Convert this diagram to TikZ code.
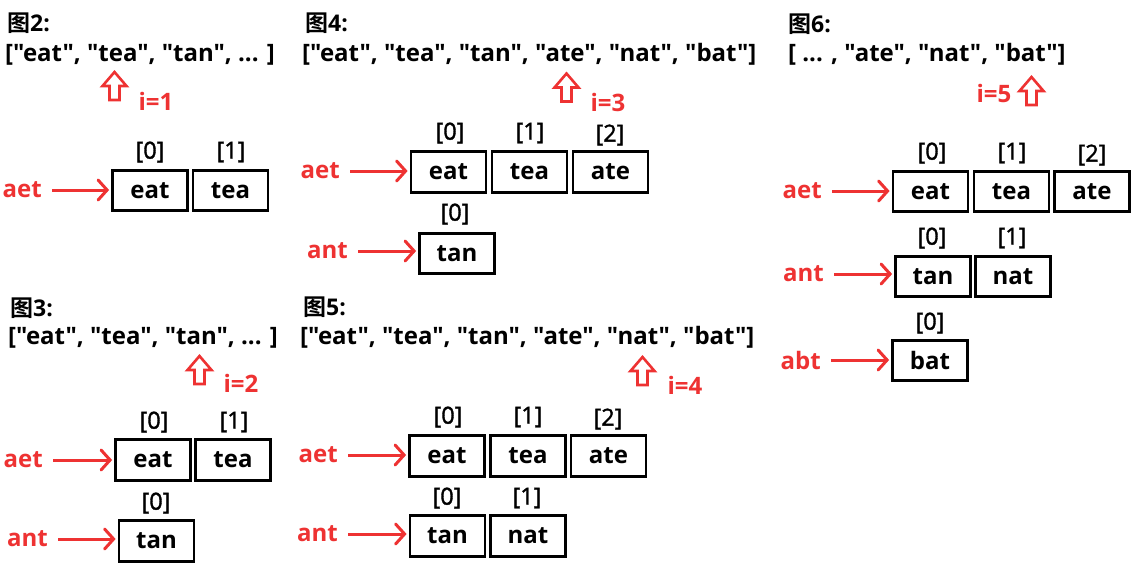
\documentclass[tikz,border=0pt]{standalone}
\usepackage{fontspec}
\setmainfont{Open Sans}[Ligatures=TeXOff]
\newfontfamily\cjkf{Noto Sans CJK SC}[BoldFont={* Bold}]
\newfontfamily\idxfont{Open Sans}[Ligatures=TeXOff,FakeBold=1.5]
\usetikzlibrary{arrows.meta}
\definecolor{myred}{RGB}{238,50,50}
\tikzset{
 cell/.style={draw, line width=2.8pt, minimum width=75pt, minimum height=40.5pt, inner sep=0pt, font=\bfseries\fontsize{24}{24}\selectfont},
 idx/.style={inner sep=0pt, font=\idxfont\fontsize{23.5}{23.5}\selectfont},
 key/.style={anchor=east, inner sep=0pt, text=myred, font=\bfseries\fontsize{24}{24}\selectfont},
 ttl/.style={anchor=west, inner sep=0pt, font=\bfseries\fontsize{23}{23}\selectfont},
 lst/.style={anchor=west, inner sep=0pt, font=\bfseries\fontsize{24}{24}\selectfont},
 ilab/.style={inner sep=0pt, text=myred, font=\bfseries\fontsize{24}{24}\selectfont},
 ptr/.style={draw=myred, line width=3pt, -{Straight Barb[length=9pt,width=20pt,line cap=round]}, shorten <=10pt, shorten >=2pt},
 uparrow/.pic={\draw[myred, line width=2.6pt, line join=miter] (0,-14) -- (12,0) -- (5,0) -- (5,14) -- (-5,14) -- (-5,0) -- (-12,0) -- cycle;}
}
\begin{document}
\begin{tikzpicture}[x=1pt,y=-1pt]
\fill[white] (0,0) rectangle (1137,574);
\useasboundingbox (0,0) rectangle (1137,574);
% ---------- Panel 2
\node[ttl] (p2t) at (7,23) {{\cjkf\bfseries 图}2:};
\node[lst] (p2l) at (5,55) {["eat", "tea", "tan", ... ]};
\pic at (114.5,86) {uparrow};
\node[ilab] (p2i) at (156,101) {i=1};
\node[idx] (p2x0) at (150,152) {[0]};
\node[idx] (p2x1) at (231,152) {[1]};
\node[cell] (p2c0) at (150,190.5) {eat};
\node[cell] (p2c1) at (230.5,190.5) {tea};
\node[key] (p2k0) at (42,190) {aet};
\draw[ptr] (p2k0) -- (p2k0 -| p2c0.west);
% ---------- Panel 3
\node[ttl] (p3t) at (10,308) {{\cjkf\bfseries 图}3:};
\node[lst] (p3l) at (8,338) {["eat", "tea", "tan", ... ]};
\pic at (199.5,370) {uparrow};
\node[ilab] (p3i) at (241,383) {i=2};
\node[idx] (p3x0) at (154,422) {[0]};
\node[idx] (p3x1) at (234,422) {[1]};
\node[cell] (p3c0) at (153,460) {eat};
\node[cell] (p3c1) at (233,460) {tea};
\node[key] (p3k0) at (43,460) {aet};
\draw[ptr] (p3k0) -- (p3k0 -| p3c0.west);
\node[idx] (p3x2) at (156,503) {[0]};
\node[cell] (p3c2) at (156.5,541) {tan};
\node[key] (p3k1) at (48,539) {ant};
\draw[ptr] (p3k1) -- (p3k1 -| p3c2.west);
% ---------- Panel 4
\node[ttl] (p4t) at (305,23) {{\cjkf\bfseries 图}4:};
\node[lst] (p4l) at (302,54) {["eat", "tea", "tan", "ate", "nat", "bat"]};
\pic at (566.5,87.5) {uparrow};
\node[ilab] (p4i) at (608,102) {i=3};
\node[idx] (p4x0) at (450,133) {[0]};
\node[idx] (p4x1) at (530,133) {[1]};
\node[idx] (p4x2) at (610,135) {[2]};
\node[cell] (p4c0) at (448.5,172) {eat};
\node[cell] (p4c1) at (529.5,172) {tea};
\node[cell] (p4c2) at (610.5,172) {ate};
\node[key] (p4k0) at (340,171) {aet};
\draw[ptr] (p4k0) -- (p4k0 -| p4c0.west);
\node[idx] (p4x3) at (455,214) {[0]};
\node[cell] (p4c3) at (457,253.5) {tan};
\node[key] (p4k1) at (348,251) {ant};
\draw[ptr] (p4k1) -- (p4k1 -| p4c3.west);
% ---------- Panel 5
\node[ttl] (p5t) at (303,307) {{\cjkf\bfseries 图}5:};
\node[lst] (p5l) at (300,337) {["eat", "tea", "tan", "ate", "nat", "bat"]};
\pic at (642.5,371) {uparrow};
\node[ilab] (p5i) at (685,385) {i=4};
\node[idx] (p5x0) at (448,417) {[0]};
\node[idx] (p5x1) at (528,417) {[1]};
\node[idx] (p5x2) at (608,419) {[2]};
\node[cell] (p5c0) at (447,456) {eat};
\node[cell] (p5c1) at (528,456) {tea};
\node[cell] (p5c2) at (608.5,456) {ate};
\node[key] (p5k0) at (338,455) {aet};
\draw[ptr] (p5k0) -- (p5k0 -| p5c0.west);
\node[idx] (p5x3) at (447,498) {[0]};
\node[idx] (p5x4) at (527,498) {[1]};
\node[cell] (p5c3) at (447.5,536) {tan};
\node[cell] (p5c4) at (528,536) {nat};
\node[key] (p5k1) at (338,534) {ant};
\draw[ptr] (p5k1) -- (p5k1 -| p5c3.west);
% ---------- Panel 6
\node[ttl] (p6t) at (788,24) {{\cjkf\bfseries 图}6:};
\node[lst] (p6l) at (788,54) {[ ... , "ate", "nat", "bat"]};
\node[ilab] (p6i) at (994,93) {i=5};
\pic at (1031.5,91) {uparrow};
\node[idx] (p6x0) at (932,153) {[0]};
\node[idx] (p6x1) at (1012,153) {[1]};
\node[idx] (p6x2) at (1092,155) {[2]};
\node[cell] (p6c0) at (930.5,191.5) {eat};
\node[cell] (p6c1) at (1011.5,191.5) {tea};
\node[cell] (p6c2) at (1092,191.5) {ate};
\node[key] (p6k0) at (822,191) {aet};
\draw[ptr] (p6k0) -- (p6k0 -| p6c0.west);
\node[idx] (p6x3) at (932,238) {[0]};
\node[idx] (p6x4) at (1012,238) {[1]};
\node[cell] (p6c3) at (933,276.5) {tan};
\node[cell] (p6c4) at (1013,276.5) {nat};
\node[key] (p6k1) at (824,274) {ant};
\draw[ptr] (p6k1) -- (p6k1 -| p6c3.west);
\node[idx] (p6x5) at (930,323) {[0]};
\node[cell] (p6c5) at (930,360.5) {bat};
\node[key] (p6k2) at (821,360) {abt};
\draw[ptr] (p6k2) -- (p6k2 -| p6c5.west);
\end{tikzpicture}
\end{document}
